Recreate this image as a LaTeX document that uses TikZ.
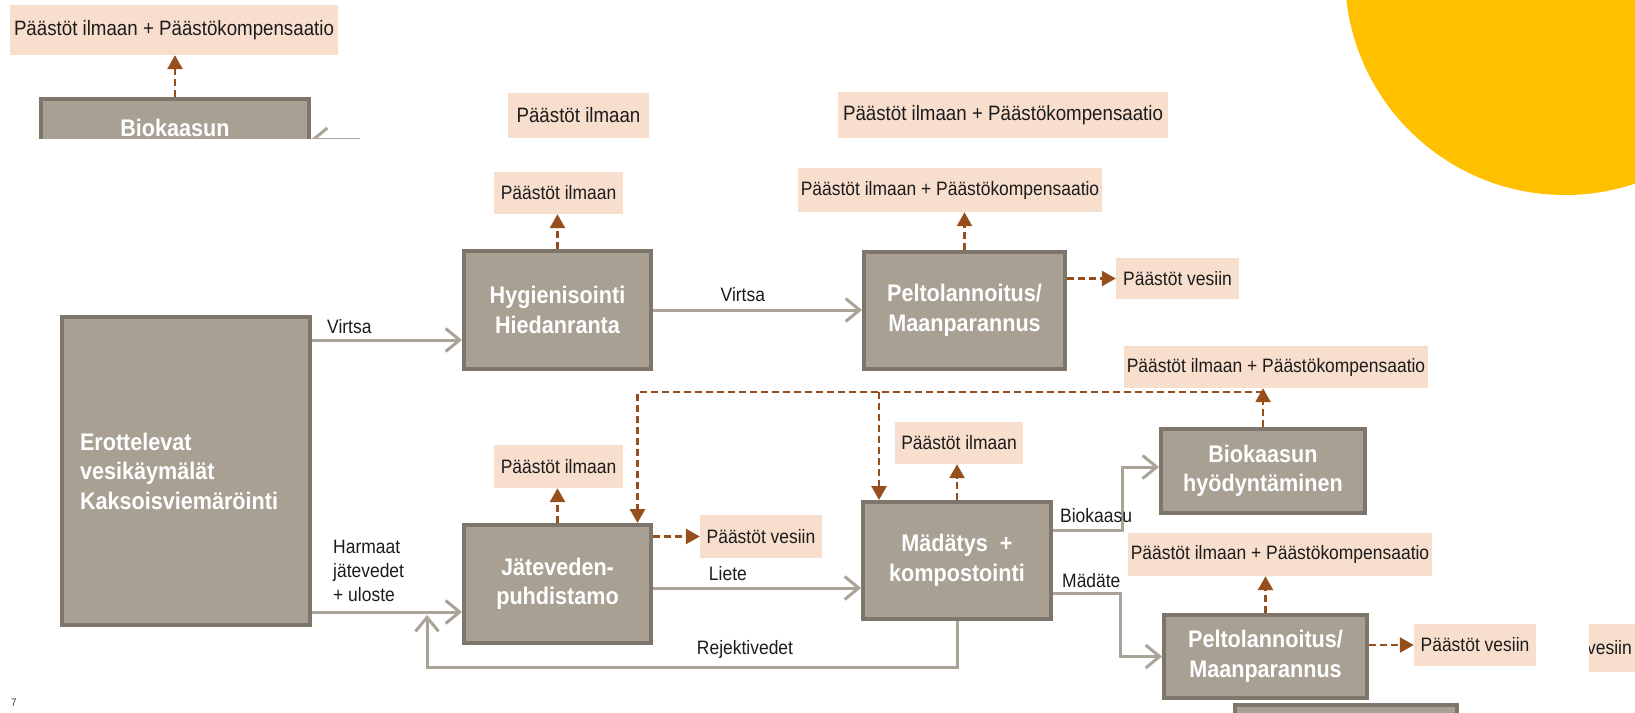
\documentclass[tikz,border=0pt]{standalone}
\usepackage{fontspec}
\setmainfont{Liberation Sans}[FakeStretch=0.9]
\usepackage{xcolor}
\usetikzlibrary{arrows.meta,calc,positioning}
\definecolor{boxfill}{RGB}{168,160,147}
\definecolor{boxline}{RGB}{126,118,106}
\definecolor{flowgray}{RGB}{170,163,152}
\definecolor{emisfill}{RGB}{248,222,204}
\definecolor{emisbrown}{RGB}{150,78,28}
\definecolor{sunyellow}{RGB}{255,192,0}
\definecolor{inktext}{RGB}{28,28,28}
\begin{document}
\begin{tikzpicture}[x=1pt,y=-1pt,
  stage/.style={draw=boxline, line width=4pt, fill=boxfill, text=white, align=center,
     font=\fontsize{24}{29.5}\selectfont\bfseries, inner sep=0pt},
  emis/.style={fill=emisfill, text=inktext, inner sep=0pt, font=\fontsize{19.4}{22}\selectfont},
  emisbig/.style={emis, font=\fontsize{20.8}{24}\selectfont},
  flow/.style={draw=flowgray, line width=3pt, -{Straight Barb[length=14pt,width=23pt]}},
  leak/.style={draw=emisbrown, line width=2.6pt, dash pattern=on 7pt off 4pt,
     -{Triangle[length=14pt,width=15pt]}},
  lbl/.style={text=inktext, inner sep=0pt, font=\fontsize{19.4}{24}\selectfont}]
\useasboundingbox (0,0) rectangle (1635,712);
\fill[sunyellow] (1565,-25) circle[radius=220];
\begin{scope}
  \clip (0,0) rectangle (400,138);
  \node[stage, minimum width=268, minimum height=92] (biotop) at (175,145) {Biokaasun\\hyödyntäminen};
  \coordinate (bt) at (360,139.5);
  \draw[flow] (bt) -- (biotop.east |- bt);
\end{scope}
\node[emisbig, minimum width=328, minimum height=50] (etl) at (174,30) {Päästöt ilmaan + Päästökompensaatio};
\node[emisbig, minimum width=141, minimum height=45] (etm1) at (578.5,115.5) {Päästöt ilmaan};
\node[emisbig, minimum width=330, minimum height=46] (etm2) at (1003,115) {Päästöt ilmaan + Päästökompensaatio};
\node[stage, minimum width=248, minimum height=308, text width=212pt, align=left] (ero) at (186,471)
  {Erottelevat\\vesikäymälät\\Kaksoisviemäröinti};
\node[stage, minimum width=187, minimum height=118] (hyg) at (557.5,310) {Hygienisointi\\Hiedanranta};
\node[stage, minimum width=201, minimum height=117] (pelto1) at (964.5,310.5) {Peltolannoitus/\\Maanparannus};
\node[stage, minimum width=187, minimum height=118] (jat) at (557.5,584) {Jäteveden-\\puhdistamo};
\node[stage, minimum width=188, minimum height=117] (mad) at (957,560.5) {Mädätys\ \ +\\kompostointi};
\node[stage, minimum width=204, minimum height=84] (bio) at (1263,471) {Biokaasun\\hyödyntäminen};
\node[stage, minimum width=203, minimum height=83] (pelto2) at (1265.5,656.5) {Peltolannoitus/\\Maanparannus};
\node[stage, minimum width=222, minimum height=84, anchor=north] (pelto3) at (1346,703) {};
\node[emis, minimum width=129, minimum height=42] (ehyg) at (558.5,193) {Päästöt ilmaan};
\node[emis, minimum width=304, minimum height=44] (epel1) at (950,190) {Päästöt ilmaan + Päästökompensaatio};
\node[emis, minimum width=123, minimum height=41] (eves1) at (1177.5,278.5) {Päästöt vesiin};
\node[emis, minimum width=129, minimum height=43] (ejat) at (558.5,466.5) {Päästöt ilmaan};
\node[emis, minimum width=122, minimum height=43] (evesj) at (761,536.5) {Päästöt vesiin};
\node[emis, minimum width=128, minimum height=42] (emad) at (959,443) {Päästöt ilmaan};
\node[emis, minimum width=304, minimum height=42] (ebio) at (1276,367) {Päästöt ilmaan + Päästökompensaatio};
\node[emis, minimum width=304, minimum height=43] (epel2) at (1280,554.5) {Päästöt ilmaan + Päästökompensaatio};
\node[emis, minimum width=122, minimum height=42] (eves2) at (1475,645) {Päästöt vesiin};
\begin{scope}
  \clip (1589,0) rectangle (1635,712);
  \node[emis, anchor=east, minimum height=48, inner xsep=4pt] (eves3) at (1636,648) {Päästöt vesiin};
\end{scope}
\node[text=inktext!80, inner sep=0pt, anchor=north west, font=\fontsize{11}{11}\selectfont] (pgno) at (11,699) {7};
\coordinate (v1) at ([yshift=-30pt]hyg.west);
\coordinate (h1) at ([yshift=-28pt]jat.west);
\coordinate (l1) at ([yshift=-4pt]jat.east);
\coordinate (bka) at ([xshift=69pt,yshift=30.5pt]mad.east);
\coordinate (mda) at ([xshift=67pt,yshift=-32.5pt]mad.east);
\coordinate (rj) at (427,667);
\coordinate (rjtip) at (427,615);
\coordinate (lk) at ([yshift=35pt]bio.north);
\coordinate (jatin) at ([xshift=80pt]jat.north);
\coordinate (mdin) at ([xshift=-78pt]mad.north);
\draw[flow] (ero.east |- v1) -- (v1);
\node[lbl, anchor=base west] (lvir1) at ($(ero.east |- v1)+(15,-7)$) {Virtsa};
\draw[flow] (ero.east |- h1) -- (h1);
\node[lbl, anchor=south west, align=left] (lharm) at ($(ero.east |- h1)+(21,-10)$) {Harmaat\\jätevedet\\+ uloste};
\draw[flow] (hyg.east) -- node[lbl, pos=0.43, above=7pt] (lvir2) {Virtsa} (pelto1.west |- hyg.east);
\draw[flow] (l1) -- node[lbl, pos=0.36, above=6pt] (llie) {Liete} (mad.west |- l1);
\draw[flow] (mad.south) -- (mad.south |- rj) -- node[lbl, pos=0.4, above=7pt] (lrej) {Rejektivedet} (rj) -- (rjtip);
\draw[flow] (mad.east |- bka) -- (bka) |- ([yshift=4pt]bio.west);
\node[lbl, anchor=base west] (lbk) at ($(mad.east |- bka)+(7,-8)$) {Biokaasu};
\draw[flow] (mad.east |- mda) -- (mda) |- (pelto2.west);
\node[lbl, anchor=base west] (lmd) at ($(mad.east |- mda)+(9,-6)$) {Mädäte};
\draw[leak] (biotop.north) -- (biotop.north |- etl.south);
\foreach \b/\e in {hyg/ehyg, pelto1/epel1, jat/ejat, mad/emad, bio/ebio, pelto2/epel2}
  \draw[leak] (\b.north) -- (\b.north |- \e.south);
\foreach \b/\e in {pelto1/eves1, jat/evesj, pelto2/eves2}
  \draw[leak] (\b.east |- \e.west) -- (\e.west);
\draw[leak] (lk) -| (jatin);
\draw[leak] (mdin |- lk) -- (mdin);
\end{tikzpicture}
\end{document}
